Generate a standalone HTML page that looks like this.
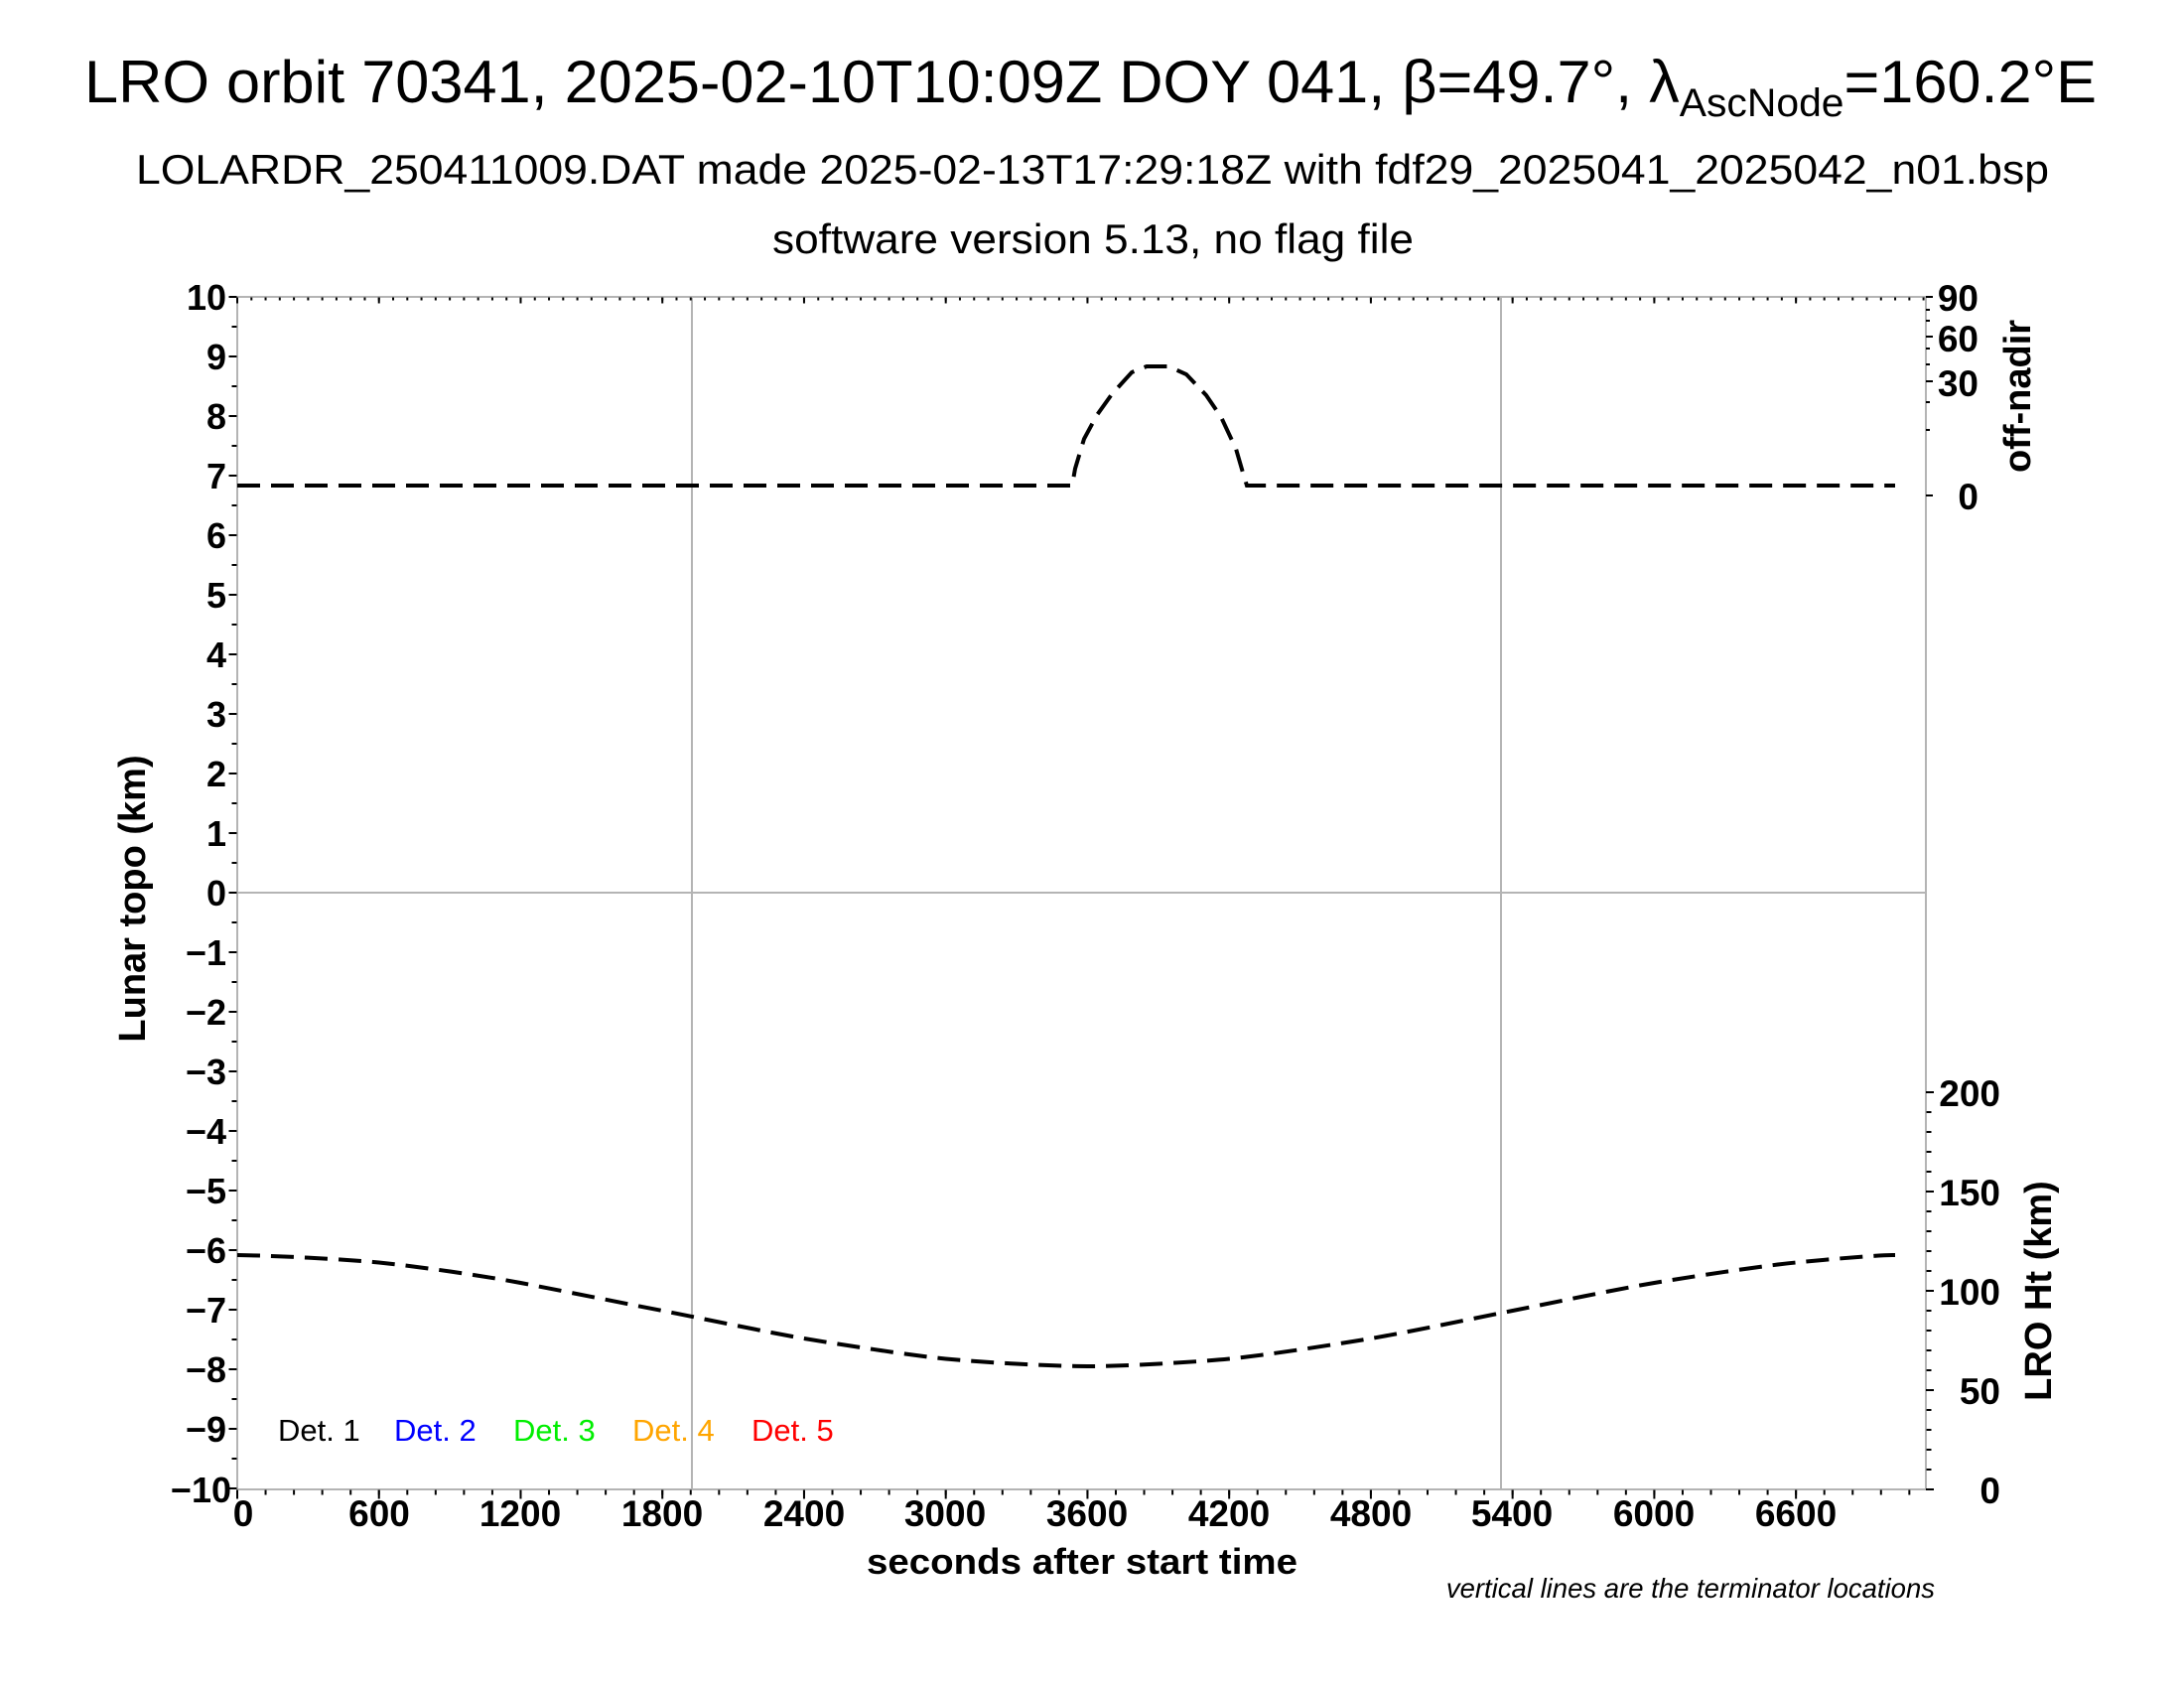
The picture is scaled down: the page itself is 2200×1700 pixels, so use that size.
<!DOCTYPE html>
<html><head><meta charset="utf-8"><style>
html,body{margin:0;padding:0;background:#fff;width:2200px;height:1700px;overflow:hidden}
svg{display:block}
text{font-family:"Liberation Sans",Arial,sans-serif;fill:#000}
.b{font-weight:bold}
</style></head><body>
<svg width="2200" height="1700" viewBox="0 0 2200 1700" xmlns="http://www.w3.org/2000/svg">
<rect width="2200" height="1700" fill="#fff"/>
<text x="85" y="103" font-size="60" textLength="2027" lengthAdjust="spacingAndGlyphs">LRO orbit 70341, 2025-02-10T10:09Z DOY 041, β=49.7°, λ<tspan font-size="40" dy="14">AscNode</tspan><tspan dy="-14">=160.2°E</tspan></text>
<text x="137" y="185" font-size="42" textLength="1927" lengthAdjust="spacingAndGlyphs">LOLARDR_250411009.DAT made 2025-02-13T17:29:18Z with fdf29_2025041_2025042_n01.bsp</text>
<text x="778" y="255" font-size="42" textLength="646" lengthAdjust="spacingAndGlyphs">software version 5.13, no flag file</text>

<g stroke="#b4b4b4" stroke-width="2" fill="none">
<line x1="697" y1="299" x2="697" y2="1500"/>
<line x1="1512" y1="299" x2="1512" y2="1500"/>
<line x1="239" y1="899" x2="1940" y2="899"/>
<rect x="239" y="299" width="1701" height="1201"/>
</g>

<g stroke="#000" fill="none">
<line x1="238" y1="1503" x2="1942" y2="1503" stroke-width="5" stroke-dasharray="2 26.548"/>
<line x1="238" y1="1505" x2="1942" y2="1505" stroke-width="9" stroke-dasharray="2 140.74"/>
<line x1="238" y1="301" x2="1942" y2="301" stroke-width="3" stroke-dasharray="2 12.274"/>
<line x1="238" y1="302.5" x2="1942" y2="302.5" stroke-width="6" stroke-dasharray="2 140.74"/>
<line x1="236" y1="298" x2="236" y2="1502" stroke-width="5" stroke-dasharray="2 28"/>
<line x1="234.5" y1="298" x2="234.5" y2="1502" stroke-width="8" stroke-dasharray="2 58"/>
<line x1="1943" y1="1501" x2="1943" y2="1099" stroke-width="5" stroke-dasharray="2 18"/>
<line x1="1944" y1="1501" x2="1944" y2="1099" stroke-width="8" stroke-dasharray="2 98"/>
<g stroke-width="2">
<line x1="1940" y1="499" x2="1947" y2="499"/>
<line x1="1940" y1="433" x2="1944" y2="433"/>
<line x1="1940" y1="405" x2="1944" y2="405"/>
<line x1="1940" y1="384" x2="1947" y2="384"/>
<line x1="1940" y1="367" x2="1944" y2="367"/>
<line x1="1940" y1="351" x2="1944" y2="351"/>
<line x1="1940" y1="339" x2="1947" y2="339"/>
<line x1="1940" y1="323" x2="1944" y2="323"/>
<line x1="1940" y1="312" x2="1944" y2="312"/>
<line x1="1940" y1="299" x2="1947" y2="299"/>
</g>
</g>

<g class="b" font-size="36" text-anchor="end">
<text x="228" y="312">10</text>
<text x="228" y="372">9</text>
<text x="228" y="432">8</text>
<text x="228" y="492">7</text>
<text x="228" y="552">6</text>
<text x="228" y="612">5</text>
<text x="228" y="672">4</text>
<text x="228" y="732">3</text>
<text x="228" y="792">2</text>
<text x="228" y="852">1</text>
<text x="228" y="912">0</text>
<text x="228" y="972">−1</text>
<text x="228" y="1032">−2</text>
<text x="228" y="1092">−3</text>
<text x="228" y="1152">−4</text>
<text x="228" y="1212">−5</text>
<text x="228" y="1272">−6</text>
<text x="228" y="1332">−7</text>
<text x="228" y="1392">−8</text>
<text x="228" y="1452">−9</text>
<text x="233" y="1513">−10</text>
</g>
<g class="b" font-size="37" text-anchor="middle">
<text x="245" y="1537">0</text>
<text x="382" y="1537">600</text>
<text x="524" y="1537">1200</text>
<text x="667" y="1537">1800</text>
<text x="810" y="1537">2400</text>
<text x="952" y="1537">3000</text>
<text x="1095" y="1537">3600</text>
<text x="1238" y="1537">4200</text>
<text x="1381" y="1537">4800</text>
<text x="1523" y="1537">5400</text>
<text x="1666" y="1537">6000</text>
<text x="1809" y="1537">6600</text>
</g>
<text class="b" x="873" y="1585" font-size="36" textLength="434" lengthAdjust="spacingAndGlyphs">seconds after start time</text>
<text class="b" font-size="38" transform="translate(146,905) rotate(-90)" text-anchor="middle">Lunar topo (km)</text>

<g class="b" font-size="37" text-anchor="end">
<text x="1993" y="313">90</text>
<text x="1993" y="354">60</text>
<text x="1993" y="399">30</text>
<text x="1993" y="513">0</text>
<text x="2015" y="1114">200</text>
<text x="2015" y="1214">150</text>
<text x="2015" y="1314">100</text>
<text x="2015" y="1414">50</text>
<text x="2015" y="1514">0</text>
</g>
<text class="b" font-size="38" transform="translate(2045,399) rotate(-90)" text-anchor="middle">off-nadir</text>
<text class="b" font-size="38" transform="translate(2066,1300) rotate(-90)" text-anchor="middle">LRO Ht (km)</text>

<g font-size="31">
<text x="280" y="1451" fill="#000">Det. 1</text>
<text x="397" y="1451" style="fill:#0000ff">Det. 2</text>
<text x="517" y="1451" style="fill:#00ee00">Det. 3</text>
<text x="637" y="1451" style="fill:#ffa500">Det. 4</text>
<text x="757" y="1451" style="fill:#ff0000">Det. 5</text>
</g>
<text x="1949" y="1609" font-size="27.5" font-style="italic" text-anchor="end">vertical lines are the terminator locations</text>

<g fill="none" stroke="#000" stroke-width="4" stroke-dasharray="23 11">
<polyline points="239,489 1080,489 1083,472 1092,442 1105,418 1120,397 1140,375 1155,369 1177,369 1195,377 1215,398 1230,420 1245,452 1252,476 1256,489 1909,489"/>
<path d="M239,1264 C275,1264.5 346,1268 381.7,1271.5 S488,1285 524.5,1292 S631,1313 667.2,1320 S774,1342 810,1348 S917,1365 952.7,1368.5 S1060,1376 1095.4,1376 S1202,1372 1238.2,1368.5 S1345,1354 1380.9,1348 S1488,1327 1523.7,1320 S1630,1298 1666.4,1292 S1773,1275 1809.1,1271.5 S1890,1264 1909,1264"/>
</g>
</svg>
</body></html>
